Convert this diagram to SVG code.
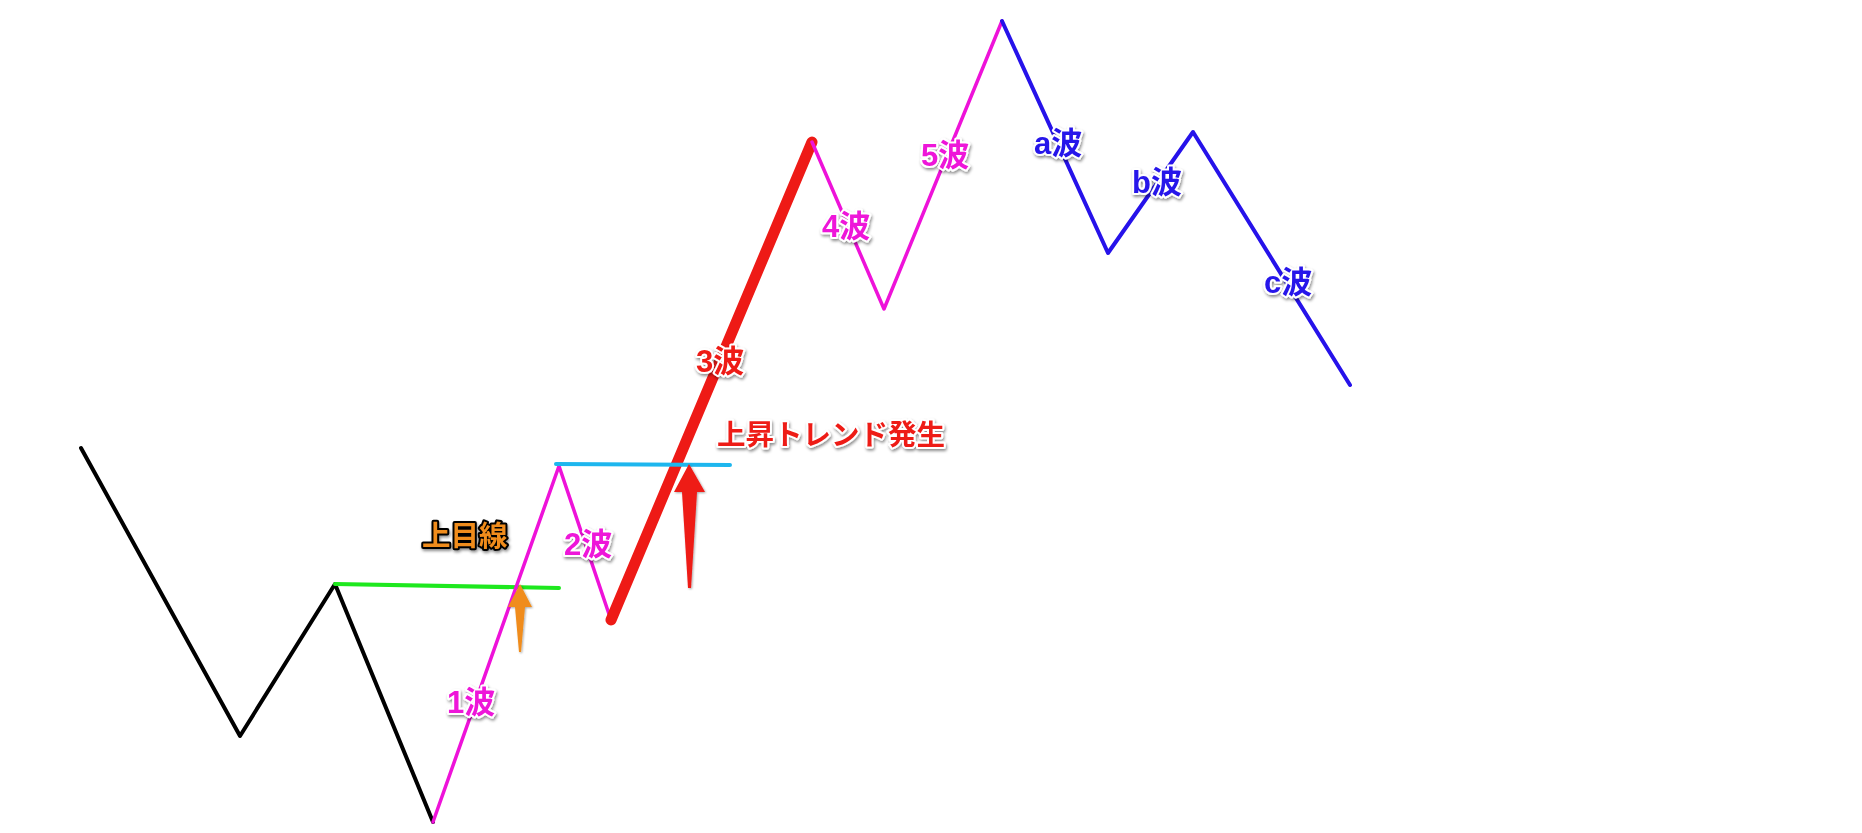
<svg xmlns="http://www.w3.org/2000/svg" width="1862" height="833" viewBox="0 0 1862 833">
  <defs>
    <filter id="shadow" x="-20%" y="-20%" width="140%" height="160%">
      <feDropShadow dx="1" dy="2" stdDeviation="1.5" flood-color="#000" flood-opacity="0.45"/>
    </filter>
    <filter id="ashadow" x="-50%" y="-10%" width="200%" height="130%">
      <feDropShadow dx="1" dy="1" stdDeviation="1" flood-color="#000" flood-opacity="0.35"/>
    </filter>
  </defs>
  <style>
    .ln { fill: none; stroke-linecap: round; stroke-linejoin: round; }
    .blk { stroke: #000000; stroke-width: 4; }
    .pnk { stroke: #ee12d9; stroke-width: 3.5; }
    .blu { stroke: #2612ea; stroke-width: 4; }
    .red { stroke: #ee1a16; stroke-width: 11; }
    .grn { stroke: #1ee81e; stroke-width: 4; }
    .cyn { stroke: #1db6ee; stroke-width: 4; }
    .lbl { font-family: "Liberation Sans", "Noto Sans CJK JP", sans-serif; font-weight: bold; font-size: 31px; paint-order: stroke fill; stroke: #ffffff; stroke-width: 4; stroke-linejoin: round; filter: url(#shadow); }
    .jp { font-family: "Noto Sans CJK JP", sans-serif; font-size: 28.5px; }
    .cp { fill: #ee12d9; }
    .cr { fill: #ee1a16; }
    .cb { fill: #2612ea; }
    .co { fill: #f08c1a; stroke: #000000; }
  </style>
  <rect width="1862" height="833" fill="#ffffff"/>
  <g id="connectors">
    <polyline class="ln blk" points="81,448 240,736 335,584 433,822"/>
    <line class="ln grn" x1="335" y1="584" x2="559" y2="588"/>
    <polyline class="ln pnk" points="433,822 559,466 611,620"/>
    <line class="ln red" x1="611" y1="620" x2="812" y2="142"/>
    <line class="ln cyn" x1="556" y1="464" x2="730" y2="465"/>
    <polyline class="ln pnk" points="812,142 884,309 1002,21"/>
    <polyline class="ln blu" points="1002,21 1108,253 1193,132 1350,385"/>
    <path id="arrow-orange" d="M520,584 L532,607 L525,607 L521,652 L519,652 L515,607 L508,607 Z" fill="#f08c1a" filter="url(#ashadow)"/>
    <path id="arrow-red" d="M689,464 L705,492 L697,492 L691,588 L688,588 L682,492 L674,492 Z" fill="#ee1a16" filter="url(#ashadow)"/>
  </g>
  <g id="label-uwamesen"><text class="lbl jp co" x="422" y="546">上目線</text></g>
  <g id="label-wave1"><text class="lbl cp" x="447" y="713">1波</text></g>
  <g id="label-wave2"><text class="lbl cp" x="564" y="555">2波</text></g>
  <g id="label-wave3"><text class="lbl cr" x="696" y="372">3波</text></g>
  <g id="label-trend"><text class="lbl jp cr" x="717" y="445">上昇トレンド発生</text></g>
  <g id="label-wave4"><text class="lbl cp" x="822" y="237">4波</text></g>
  <g id="label-wave5"><text class="lbl cp" x="921" y="166">5波</text></g>
  <g id="label-wavea"><text class="lbl cb" x="1034" y="154">a波</text></g>
  <g id="label-waveb"><text class="lbl cb" x="1132" y="193">b波</text></g>
  <g id="label-wavec"><text class="lbl cb" x="1264" y="293">c波</text></g>
</svg>
